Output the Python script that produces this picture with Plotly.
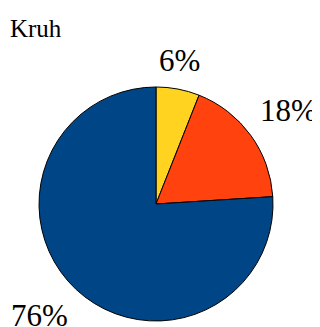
import math
import plotly.graph_objects as go

labels = ["A", "B", "C"]
values = [6, 18, 76]
colors = ["#FFD320", "#FF420E", "#004586"]
title_text = "Kruh"

SERIF = "Liberation Serif, Times New Roman, serif"

W, H = 312, 319
dom_x = [0.0994, 0.8494]
dom_y = [0.0188, 0.7524]
label_gap = 9  # px between pie rim and label box

fig = go.Figure(go.Pie(
    labels=labels,
    values=values,
    sort=False,
    direction="clockwise",
    rotation=0,
    marker=dict(colors=colors, line=dict(color="#000000", width=1)),
    textinfo="none",
    showlegend=False,
    hoverinfo="none",
    automargin=False,
    domain=dict(x=dom_x, y=dom_y),
))

# Percentage labels placed outside the rim along each slice's mid-angle
cx = (dom_x[0] + dom_x[1]) / 2 * W
cy = (dom_y[0] + dom_y[1]) / 2 * H
R = min((dom_x[1] - dom_x[0]) * W, (dom_y[1] - dom_y[0]) * H) / 2
total = sum(values)
annotations = []
cum = 0.0
for v in values:
    mid = (cum + v / 2) / total * 2 * math.pi
    cum += v
    s, c = math.sin(mid), math.cos(mid)
    px = cx + (R + label_gap) * s
    py = cy + (R + label_gap) * c
    xa = "center" if abs(s) < 0.3 else ("left" if s > 0 else "right")
    ya = "middle" if abs(c) < 0.3 else ("bottom" if c > 0 else "top")
    annotations.append(dict(
        text=f"{round(100 * v / total)}%", x=px / W, y=py / H,
        xref="paper", yref="paper", xanchor=xa, yanchor=ya, showarrow=False,
        font=dict(family=SERIF, size=31, color="#000000"),
    ))

fig.update_layout(
    width=W, height=H,
    autosize=False,
    margin=dict(l=0, r=0, t=0, b=0, pad=0),
    paper_bgcolor="#FFFFFF",
    plot_bgcolor="#FFFFFF",
    font=dict(family=SERIF, color="#000000"),
    title=dict(text=title_text, x=0.0064, xref="paper", xanchor="left",
               y=0.937, yref="container", yanchor="middle",
               font=dict(family=SERIF, size=25, color="#000000")),
    annotations=annotations,
)

fig.write_html("out.html")
